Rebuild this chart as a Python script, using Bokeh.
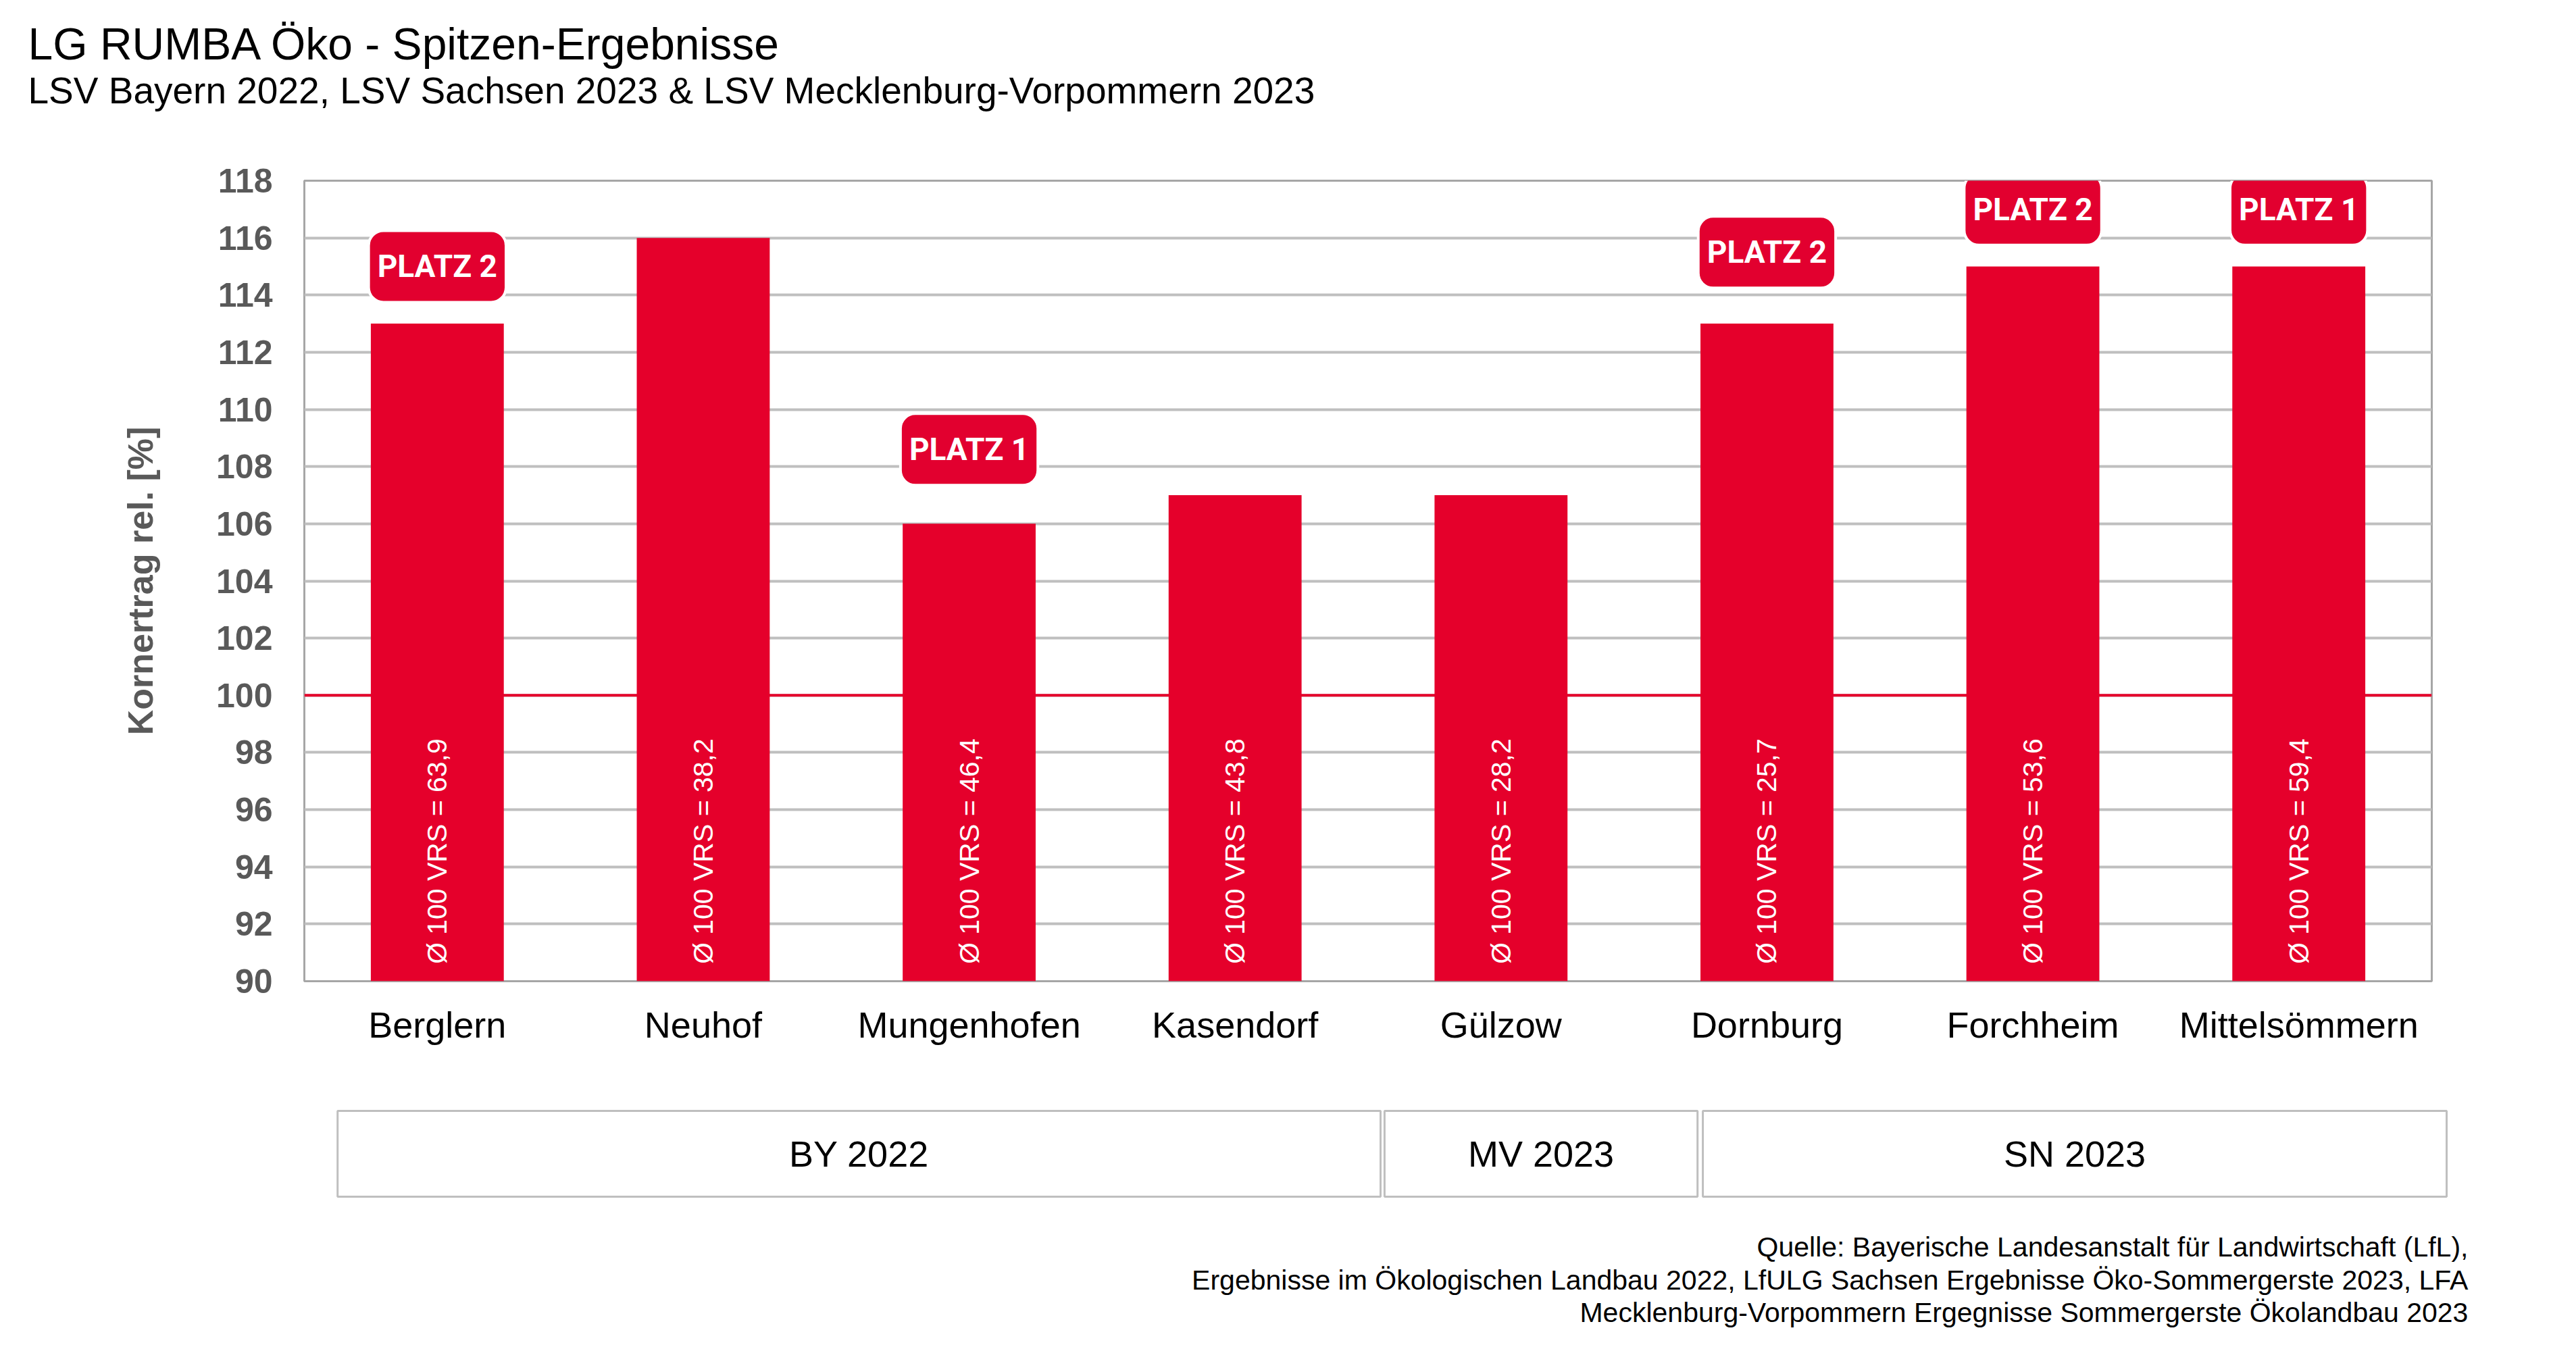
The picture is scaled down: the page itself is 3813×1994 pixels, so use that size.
import math
from bokeh.plotting import figure
from bokeh.models import Range1d, FixedTicker, Label, Span, ColumnDataSource
from bokeh.layouts import column, row
from bokeh.embed import file_html
from bokeh.resources import INLINE
from bokeh.core.properties import value

# ---------------- data ----------------
categories = ["Berglern", "Neuhof", "Mungenhofen", "Kasendorf", "Gülzow",
              "Dornburg", "Forchheim", "Mittelsömmern"]
values = [113, 116, 106, 107, 107, 113, 115, 115]
vrs = [63.9, 38.2, 46.4, 43.8, 28.2, 25.7, 53.6, 59.4]
ranks = [2, None, 1, None, None, 2, 2, 1]
groups = ["BY 2022", "MV 2023", "SN 2023"]
group_sizes = [4, 1, 3]
y_ticks = list(range(90, 119, 2))
reference_level = 100

title = "LG RUMBA Öko - Spitzen-Ergebnisse"
subtitle = "LSV Bayern 2022, LSV Sachsen 2023 & LSV Mecklenburg-Vorpommern 2023"
y_label = "Kornertrag rel. [%]"
source_lines = [
    "Quelle: Bayerische Landesanstalt für Landwirtschaft (LfL),",
    "Ergebnisse im Ökologischen Landbau 2022, LfULG Sachsen Ergebnisse Öko-Sommergerste 2023, LFA",
    "Mecklenburg-Vorpommern Ergegnisse Sommergerste Ökolandbau 2023",
]

# ---------------- layout / style ----------------
RED = "#E5002B"
BADGE_RED = "#E2002F"
GRID = "#BFBFBF"
AXIS_GRAY = "#595959"
FONT = "Liberation Sans"

W = 3810
FRAME_L = 450
FRAME_W = 3149
FRAME_R = W - FRAME_L - FRAME_W
HEADER_H = 227
MAIN_TOP = 40
FRAME_H = 1185
MAIN_BOTTOM = 130
FOOTER_H = 408
UNIT = FRAME_W / len(categories)

BADGE_LIFT = [2.0, 0, 2.6, 0, 0, 2.5, 2.0, 2.0]       # badge centre above bar top (value units)
BOX_INSET = [(0.125, 0.047), (0.062, 0.239), (0.259, 0.056)]  # group box left/right shifts (category units)

# ---------------- header ----------------
h = figure(width=W, height=HEADER_H, x_range=Range1d(0, W), y_range=Range1d(HEADER_H, 0),
           min_border=0, x_axis_location=None, y_axis_location=None,
           toolbar_location=None, output_backend="svg", outline_line_color=None)
h.grid.visible = False
h.text(x=[41], y=[64], text=[title], text_font=value(FONT), text_font_size="66px",
       text_color="black", text_align="left", text_baseline="alphabetic")
h.text(x=[41], y=[133], text=[subtitle], text_font=value(FONT), text_font_size="55px",
       text_color="black", text_align="left", text_baseline="alphabetic")

# ---------------- main chart ----------------
xs = list(range(len(categories)))
src = ColumnDataSource(dict(
    x=xs, top=values,
    label=[("Ø 100 VRS = %.1f" % v).replace(".", ",") for v in vrs],
))

p = figure(frame_width=FRAME_W, frame_height=FRAME_H,
           min_border_left=FRAME_L, min_border_right=FRAME_R,
           min_border_top=MAIN_TOP, min_border_bottom=MAIN_BOTTOM,
           x_range=Range1d(-0.5, len(categories) - 0.5),
           y_range=Range1d(y_ticks[0], y_ticks[-1]),
           toolbar_location=None, output_backend="svg")

p.outline_line_color = "#A6A6A6"
p.outline_line_width = 3
p.xgrid.visible = False
p.ygrid.grid_line_color = GRID
p.ygrid.grid_line_width = 4

p.yaxis.ticker = FixedTicker(ticks=y_ticks)
p.yaxis.axis_line_color = None
p.yaxis.major_tick_line_color = None
p.yaxis.minor_tick_line_color = None
p.yaxis.major_tick_out = 0
p.yaxis.major_label_standoff = 47
p.yaxis.major_label_text_font = FONT
p.yaxis.major_label_text_font_size = "50px"
p.yaxis.major_label_text_font_style = "bold"
p.yaxis.major_label_text_color = AXIS_GRAY
p.yaxis.axis_label = y_label
p.yaxis.axis_label_text_font = FONT
p.yaxis.axis_label_text_font_size = "52px"
p.yaxis.axis_label_text_font_style = "bold"
p.yaxis.axis_label_text_color = AXIS_GRAY
p.yaxis.axis_label_standoff = 80

p.xaxis.ticker = FixedTicker(ticks=xs)
p.xaxis.major_label_overrides = {i: c for i, c in enumerate(categories)}
p.xaxis.axis_line_color = None
p.xaxis.major_tick_line_color = None
p.xaxis.minor_tick_line_color = None
p.xaxis.major_tick_out = 0
p.xaxis.major_label_standoff = 34
p.xaxis.major_label_text_font = FONT
p.xaxis.major_label_text_font_size = "54px"
p.xaxis.major_label_text_color = "black"

p.add_layout(Span(location=reference_level, dimension="width", line_color=RED,
                  line_width=4, level="underlay"))

p.vbar(x="x", top="top", bottom=y_ticks[0], width=0.5, source=src,
       fill_color=RED, line_color=None)

p.text(x="x", y=y_ticks[0] + 0.6, text="label", source=src, angle=math.pi / 2,
       text_font=value(FONT), text_font_size="41px", text_color="white",
       text_align="left", text_baseline="middle")

for i, r in enumerate(ranks):
    if r is None:
        continue
    p.add_layout(Label(x=i, y=values[i] + BADGE_LIFT[i], text="PLATZ %d" % r,
                       text_font="Roboto", text_font_size="46px",
                       text_font_style="bold", text_color="white",
                       text_align="center", text_baseline="middle",
                       background_fill_color=BADGE_RED,
                       border_line_color="white", border_line_width=4,
                       padding=dict(x=13, y=26), border_radius=22))

# ---------------- footer ----------------
f = figure(width=W, height=FOOTER_H,
           x_range=Range1d(-0.5 - FRAME_L / UNIT, -0.5 + (W - FRAME_L) / UNIT),
           y_range=Range1d(FOOTER_H, 0),
           min_border=0, x_axis_location=None, y_axis_location=None,
           toolbar_location=None, output_backend="svg", outline_line_color=None)
f.grid.visible = False

starts, ends = [], []
acc = 0
for n, (li, ri) in zip(group_sizes, BOX_INSET):
    starts.append(acc - 0.5 + li)
    ends.append(acc + n - 0.5 + ri)
    acc += n
f.quad(left=starts, right=ends, top=62, bottom=189, fill_color="white",
       line_color=GRID, line_width=3)
f.text(x=[(a + b) / 2 for a, b in zip(starts, ends)], y=125, text=groups,
       text_font=value(FONT), text_font_size="54px", text_color="black",
       text_align="center", text_baseline="middle")
f.text(x=len(categories) - 0.5 + 0.137, y=[263, 312, 360], text=source_lines,
       text_font=value(FONT), text_font_size="41px", text_color="black",
       text_align="right", text_baseline="alphabetic")

layout = column(h, row(p), f, spacing=0)
open("out.html", "w").write(file_html(layout, INLINE))
